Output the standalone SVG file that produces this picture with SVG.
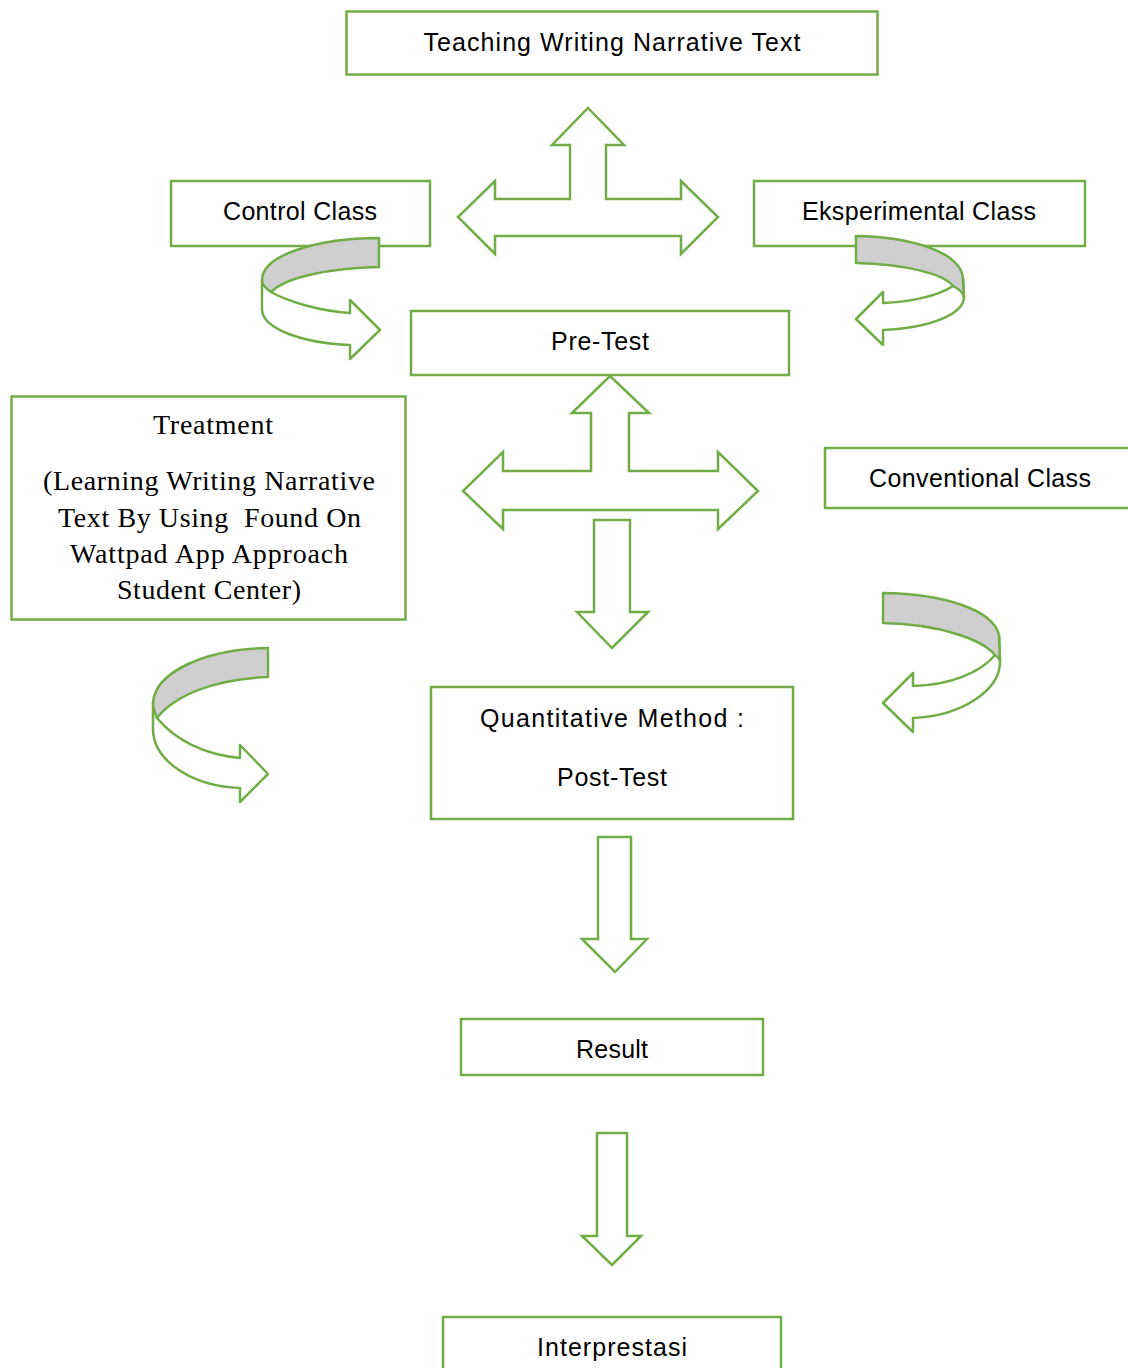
<svg xmlns="http://www.w3.org/2000/svg" width="1128" height="1368" viewBox="0 0 1128 1368">
<style>
.box{fill:#fff;stroke:#70AD47;stroke-width:2.5}
.arr{fill:#fff;stroke:#70AD47;stroke-width:2.5;stroke-linejoin:miter}
.band{fill:#CFCFCF;stroke:#70AD47;stroke-width:2.5;stroke-linejoin:round}
.front{fill:#fff;stroke:#70AD47;stroke-width:2.5;stroke-linejoin:round}
.t{font-family:"Liberation Sans",Arial,sans-serif;font-size:25px;fill:#000;text-anchor:middle}
.s{font-family:"Liberation Serif","Times New Roman",serif;font-size:28px;fill:#000;text-anchor:middle}
</style>
<rect width="1128" height="1368" fill="#fff"/>

<g id="node-teaching">
  <rect class="box" x="346.5" y="11.5" width="531" height="63"/>
  <text class="t" x="612" y="51" textLength="377">Teaching Writing Narrative Text</text>
</g>
<g id="node-control">
  <rect class="box" x="171" y="181" width="259" height="65"/>
  <text class="t" x="300" y="220" textLength="154">Control Class</text>
</g>
<g id="node-eksperimental">
  <rect class="box" x="754" y="181" width="331" height="65"/>
  <text class="t" x="919" y="220" textLength="234">Eksperimental Class</text>
</g>
<g id="node-pretest">
  <rect class="box" x="411" y="311" width="378" height="64"/>
  <text class="t" x="600" y="350" textLength="98">Pre-Test</text>
</g>
<g id="node-treatment">
  <rect class="box" x="11.5" y="396.5" width="394" height="223"/>
  <text class="s" x="213" y="434" textLength="120">Treatment</text>
  <text class="s" x="209" y="490" textLength="332">(Learning Writing Narrative</text>
  <text class="s" x="209.5" y="527" textLength="303" xml:space="preserve">Text By Using  Found On</text>
  <text class="s" x="209" y="563" textLength="278">Wattpad App Approach</text>
  <text class="s" x="209" y="599" textLength="184">Student Center)</text>
</g>
<g id="node-conventional">
  <rect class="box" x="825" y="448" width="320" height="60"/>
  <text class="t" x="980" y="487" textLength="222">Conventional Class</text>
</g>
<g id="node-quantitative">
  <rect class="box" x="431" y="687" width="362" height="132"/>
  <text class="t" x="612" y="727" textLength="264">Quantitative Method :</text>
  <text class="t" x="612" y="786" textLength="110">Post-Test</text>
</g>
<g id="node-result">
  <rect class="box" x="461" y="1019" width="302" height="56"/>
  <text class="t" x="612" y="1058" textLength="72">Result</text>
</g>
<g id="node-interprestasi">
  <rect class="box" x="443" y="1317" width="338" height="70"/>
  <text class="t" x="612" y="1356" textLength="150">Interprestasi</text>
</g>

<g id="connectors">
  <path class="arr" d="M588,108 L624,145 L606,145 L606,199 L681,199 L681,181 L718,217 L681,254 L681,236 L495,236 L495,254 L458,217 L495,181 L495,199 L570,199 L570,145 L552,145 Z"/>
  <path class="arr" d="M610,376 L649,413 L629,413 L629,471 L718,471 L718,452 L758,491 L718,529 L718,510 L503,510 L503,529 L463,491 L503,452 L503,471 L591,471 L591,413 L572,413 Z"/>
  <path class="arr" d="M594,520 L630,520 L630,612 L648,612 L612,648 L577,612 L594,612 Z"/>
  <path class="arr" d="M598,837 L631,837 L631,939 L647,939 L615,972 L582,939 L598,939 Z"/>
  <path class="arr" d="M597,1133 L627,1133 L627,1236 L641,1236 L612,1265 L582,1236 L597,1236 Z"/>

  <g id="curve-control">
    <path class="front" d="M271,292 C289,302 320,311 350,313 L350,300 L380,330 L350,359 L350,345 C300,343 263,328 262,310 L262,280 Z"/>
    <path class="band" d="M379,238 L379,267 C330,268 286,277 271,292 C265,288 262,284 262,280 C262,256 315,238 379,238 Z"/>
  </g>
  <g id="curve-eksperimental">
    <path class="front" d="M953,286 C938,296 910,302 883,303 L883,292 L856,319 L883,345 L883,330 C930,328 964,314 964,297 L963,278 Z"/>
    <path class="band" d="M856,236 L856,263 C905,264 944,274 953,286 C959,289 963,293 964,297 L963,278 C960,252 912,237 856,236 Z"/>
  </g>
  <g id="curve-treatment">
    <path class="front" d="M157,718 C175,740 205,755 240,758 L240,745 L268,774 L240,802 L240,788 C190,786 154,760 153,730 L153,703 Z"/>
    <path class="band" d="M268,648 L268,677 C215,679 175,695 157,718 C155,713 153,708 153,703 C155,672 205,649 268,648 Z"/>
  </g>
  <g id="curve-conventional">
    <path class="front" d="M995,655 C980,673 950,685 913,686 L913,673 L883,703 L913,732 L913,718 C962,716 1000,690 1000,662 L999,635 Z"/>
    <path class="band" d="M883,593 L883,623 C940,624 983,640 995,655 C998,657 1000,659 1000,662 L999,635 C993,610 945,594 883,593 Z"/>
  </g>
</g>
</svg>
